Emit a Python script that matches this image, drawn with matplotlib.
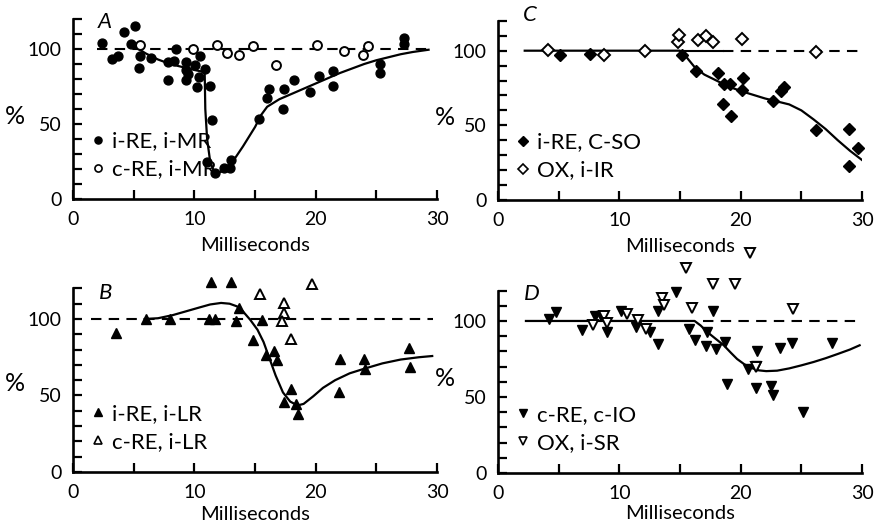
import numpy as np
import matplotlib
matplotlib.use("Agg")
import matplotlib.pyplot as plt
from matplotlib.lines import Line2D

plt.rcParams['font.family'] = ['Lato', 'DejaVu Sans']
plt.rcParams['font.size'] = 13

# ---- panel A: i-RE, i-MR (filled) / c-RE, i-MR (open) ----
a_fill_x = [2.4, 3.2, 3.7, 4.2, 5.1, 4.8, 5.4, 5.5, 6.4, 7.8, 7.8, 8.3, 8.5, 9.3, 9.3, 9.3, 9.5,
            10.05, 10.45, 10.35, 10.25, 10.9, 11.3, 11.45, 11.0, 11.7, 12.4, 12.9, 13.05,
            15.35, 15.95, 16.15, 17.35, 17.3, 18.2, 19.5, 20.25, 21.45, 21.4, 25.3, 25.3,
            27.3, 27.3]
a_fill_y = [104, 93, 95, 111, 115, 103, 87, 95, 94, 91, 79, 92, 100, 91, 86, 79.5, 83.5,
            89.5, 95, 81, 74.5, 86.5, 75.5, 52.5, 24.5, 17, 20.5, 20.5, 26,
            53, 67, 73, 73.5, 60, 79, 71, 82, 85, 75, 90, 84, 107, 103]
a_open_x = [5.5, 9.9, 11.9, 12.7, 13.65, 14.8, 16.7, 20.1, 22.3, 23.9, 24.3]
a_open_y = [102.5, 100, 102.5, 97.5, 96, 102, 89.5, 102.5, 98.5, 96, 102]
a_curve_x = [5.0, 6.0, 7.0, 8.0, 9.0, 10.0, 10.6, 10.85, 10.9, 11.05, 11.3, 11.7, 12.3, 13.0,
             14.0, 15.0, 15.5, 16.0, 16.5, 17.0, 18.0, 19.0, 20.0, 21.0, 22.0, 23.0, 24.0,
             25.0, 26.0, 27.0, 28.0, 29.3]
a_curve_y = [102, 97, 93, 90, 88, 86, 85, 84, 60, 40, 25, 16.5, 18.5, 23, 35, 48, 56, 61.5,
             64, 66.5, 70, 73.5, 77, 80.5, 84, 87, 90, 92.5, 94.5, 96.5, 98, 99.5]

# ---- panel B: i-RE, i-LR (filled) / c-RE, i-LR (open) ----
b_fill_x = [3.5, 6.0, 8.0, 11.2, 11.7, 11.4, 13.0, 13.7, 13.4, 14.85, 15.55, 15.9, 16.6, 16.8,
            17.4, 18.0, 18.4, 18.5, 22.0, 21.95, 23.95, 24.1, 27.7, 27.8]
b_fill_y = [91, 100, 100, 100, 100, 124, 124.5, 107, 99, 86, 99.5, 76.5, 79, 73.5,
            46, 54, 44.5, 38, 74, 52, 74, 67, 81, 68.6]
b_open_x = [15.4, 17.35, 17.35, 17.25, 17.95, 19.7]
b_open_y = [116.5, 110.3, 104, 99, 87, 123]
b_curve_x = [5.9, 7.0, 8.2, 9.3, 10.4, 11.3, 12.2, 12.9, 13.5, 14.0, 14.6, 15.2, 15.7, 16.2,
             16.7, 17.3, 17.9, 18.5, 19.0, 19.8, 20.6, 21.6, 22.8, 24.0, 25.5, 27.0, 28.5, 29.6]
b_curve_y = [100, 100.5, 102.5, 105, 107.5, 109.5, 110.5, 110, 108.3, 105, 99.5, 93, 85,
             74, 63, 52, 46, 43.5, 44.5, 49.5, 55, 60, 64.5, 67.5, 71, 73.5, 75, 75.8]

# ---- panel C: i-RE, C-SO (filled) / OX, i-IR (open) ----
c_fill_x = [5.1, 7.6, 15.2, 16.3, 18.1, 18.6, 19.1, 18.5, 19.2, 20.2, 20.1, 22.7, 23.3, 23.6,
            26.2, 28.9, 29.7, 28.9]
c_fill_y = [97, 98, 97, 86.5, 85, 77.5, 78, 64, 56, 81.5, 73.5, 66, 73, 76,
            47, 47.5, 35, 23]
c_open_x = [4.1, 8.7, 12.1, 14.8, 14.9, 16.5, 17.1, 17.7, 20.1, 26.2]
c_open_y = [100.5, 97, 100, 105.5, 110.5, 107, 110, 106, 108, 99]
c_curve_x = [2.2, 15.0, 15.5, 16.2, 17.0, 18.0, 19.0, 20.0, 21.0, 22.0, 23.0, 24.0, 25.0,
             26.0, 27.0, 28.0, 29.0, 30.2]
c_curve_y = [100, 100, 96, 89, 84, 80, 76, 73, 70.5, 68, 66, 64, 60, 54, 47.5, 40, 33, 25.5]

# ---- panel D: c-RE, c-IO (filled) / OX, i-SR (open) ----
d_fill_x = [4.2, 4.8, 6.9, 8.0, 8.5, 9.0, 10.1, 11.35, 12.5, 13.15, 13.15, 14.7, 15.75, 16.25,
            17.1, 17.2, 17.7, 18.0, 18.7, 18.9, 20.6, 21.35, 21.3, 21.3, 22.5, 22.65, 23.2,
            24.2, 25.1, 27.55]
d_fill_y = [101, 106, 94, 103.5, 103.5, 93, 106.5, 96, 93, 84.7, 106.6, 119.3, 94.5, 87.3,
            83.6, 92.6, 106.3, 81.4, 86.4, 58.4, 68.5, 80.3, 70.5, 55.8, 57, 51.4, 82.5,
            85.8, 40, 85.8]
d_open_x = [7.8, 8.7, 8.95, 10.6, 11.5, 12.2, 13.5, 13.7, 15.45, 16.0, 17.75, 19.5, 20.75,
            24.3, 21.3]
d_open_y = [97.4, 103.5, 98.5, 104.4, 100.7, 94.6, 115.3, 110.5, 135, 108.7, 124, 124,
            145, 107.6, 70]
d_curve_x = [2.3, 16.2, 16.7, 17.2, 17.9, 18.6, 19.2, 19.7, 20.3, 20.8, 21.5, 22.1, 23.0,
             24.0, 25.0, 26.0, 27.0, 28.0, 29.0, 29.8]
d_curve_y = [100, 100, 97, 93, 88.5, 84, 79, 75, 71.5, 69.3, 67.5, 67, 67.3, 68.8, 70.8,
             73, 75.5, 78.3, 81.2, 84]

panels = [
    dict(pos=[0.0829, 0.6217, 0.4132, 0.3422], letter='A', lpos=(2.6, 118),
         fx=a_fill_x, fy=a_fill_y, ox=a_open_x, oy=a_open_y, cx=a_curve_x, cy=a_curve_y,
         mk='o', ms=6.4, labs=['i-RE, i-MR', 'c-RE, i-MR'], solid=None, dash=(2.0, 29.4),
         pct=(-4.8, 55), lpad=6),
    dict(pos=[0.5653, 0.6198, 0.4132, 0.3406], letter='C', lpos=(2.6, 124),
         fx=c_fill_x, fy=c_fill_y, ox=c_open_x, oy=c_open_y, cx=c_curve_x, cy=c_curve_y,
         mk='D', ms=5.8, labs=['i-RE, C-SO', 'OX, i-IR'], solid=(15.0, 18.5), dash=(18.5, 30.0),
         pct=(-4.4, 55), lpad=6),
    dict(pos=[0.0829, 0.1027, 0.4132, 0.3490], letter='B', lpos=(2.7, 117),
         fx=b_fill_x, fy=b_fill_y, ox=b_open_x, oy=b_open_y, cx=b_curve_x, cy=b_curve_y,
         mk='^', ms=7.0, labs=['i-RE, i-LR', 'c-RE, i-LR'], solid=None, dash=(1.5, 29.7),
         pct=(-4.8, 58), lpad=3),
    dict(pos=[0.5653, 0.1008, 0.4132, 0.3468], letter='D', lpos=(2.8, 118),
         fx=d_fill_x, fy=d_fill_y, ox=d_open_x, oy=d_open_y, cx=d_curve_x, cy=d_curve_y,
         mk='v', ms=7.0, labs=['c-RE, c-IO', 'OX, i-SR'], solid=None, dash=(16.9, 30.0),
         pct=(-4.4, 62), lpad=2),
]

fig = plt.figure(figsize=(8.81, 5.26), dpi=100)

for p in panels:
    ax = fig.add_axes(p['pos'])
    ax.set_xlim(0, 30)
    ax.set_ylim(0, 120)
    for s in ['top', 'right']:
        ax.spines[s].set_visible(False)
    for s in ['left', 'bottom']:
        ax.spines[s].set_linewidth(1.9)
    ax.set_xticks([0, 10, 20, 30])
    ax.set_xticks([5, 15, 25], minor=True)
    ax.set_yticks([0, 50, 100])
    ax.set_yticks(np.arange(10, 121, 10), minor=True)
    ax.tick_params(which='both', direction='in', length=6.5, width=1.6, labelsize=14)
    ax.tick_params(axis='x', which='both', pad=9)
    ax.tick_params(axis='y', which='both', pad=8)

    # reference line at 100 %
    ax.plot(p['dash'], [100, 100], color='black', lw=1.5, ls=(0, (5, 3.5)))
    if p['solid'] is not None:
        ax.plot(p['solid'], [100, 100], color='black', lw=1.5)
    ax.plot(p['cx'], p['cy'], color='black', lw=1.6, solid_joinstyle='round')

    ax.plot(p['fx'], p['fy'], ls='none', marker=p['mk'], ms=p['ms'], mfc='black',
            mec='black', clip_on=False)
    ax.plot(p['ox'], p['oy'], ls='none', marker=p['mk'], ms=p['ms'], mfc='white',
            mec='black', mew=1.4, clip_on=False)

    handles = [Line2D([], [], ls='none', marker=p['mk'], ms=p['ms'] * 0.8, mfc='black',
                      mec='black'),
               Line2D([], [], ls='none', marker=p['mk'], ms=p['ms'] * 0.8, mfc='white',
                      mec='black', mew=1.2)]
    ax.legend(handles, p['labs'], loc='lower left', bbox_to_anchor=(1.4, 13),
              bbox_transform=ax.transData, frameon=False, borderpad=0, borderaxespad=0,
              handlelength=0.7, handletextpad=0.3, labelspacing=0.36, fontsize=16)

    ax.text(p['lpos'][0], p['lpos'][1], p['letter'], fontsize=16, style='italic',
            ha='center', va='center')
    ax.text(p['pct'][0], p['pct'][1], '%', fontsize=18, ha='center', va='center')
    ax.set_xlabel('Milliseconds', fontsize=14.5, labelpad=p['lpad'])

fig.savefig('out.png', dpi=100)
